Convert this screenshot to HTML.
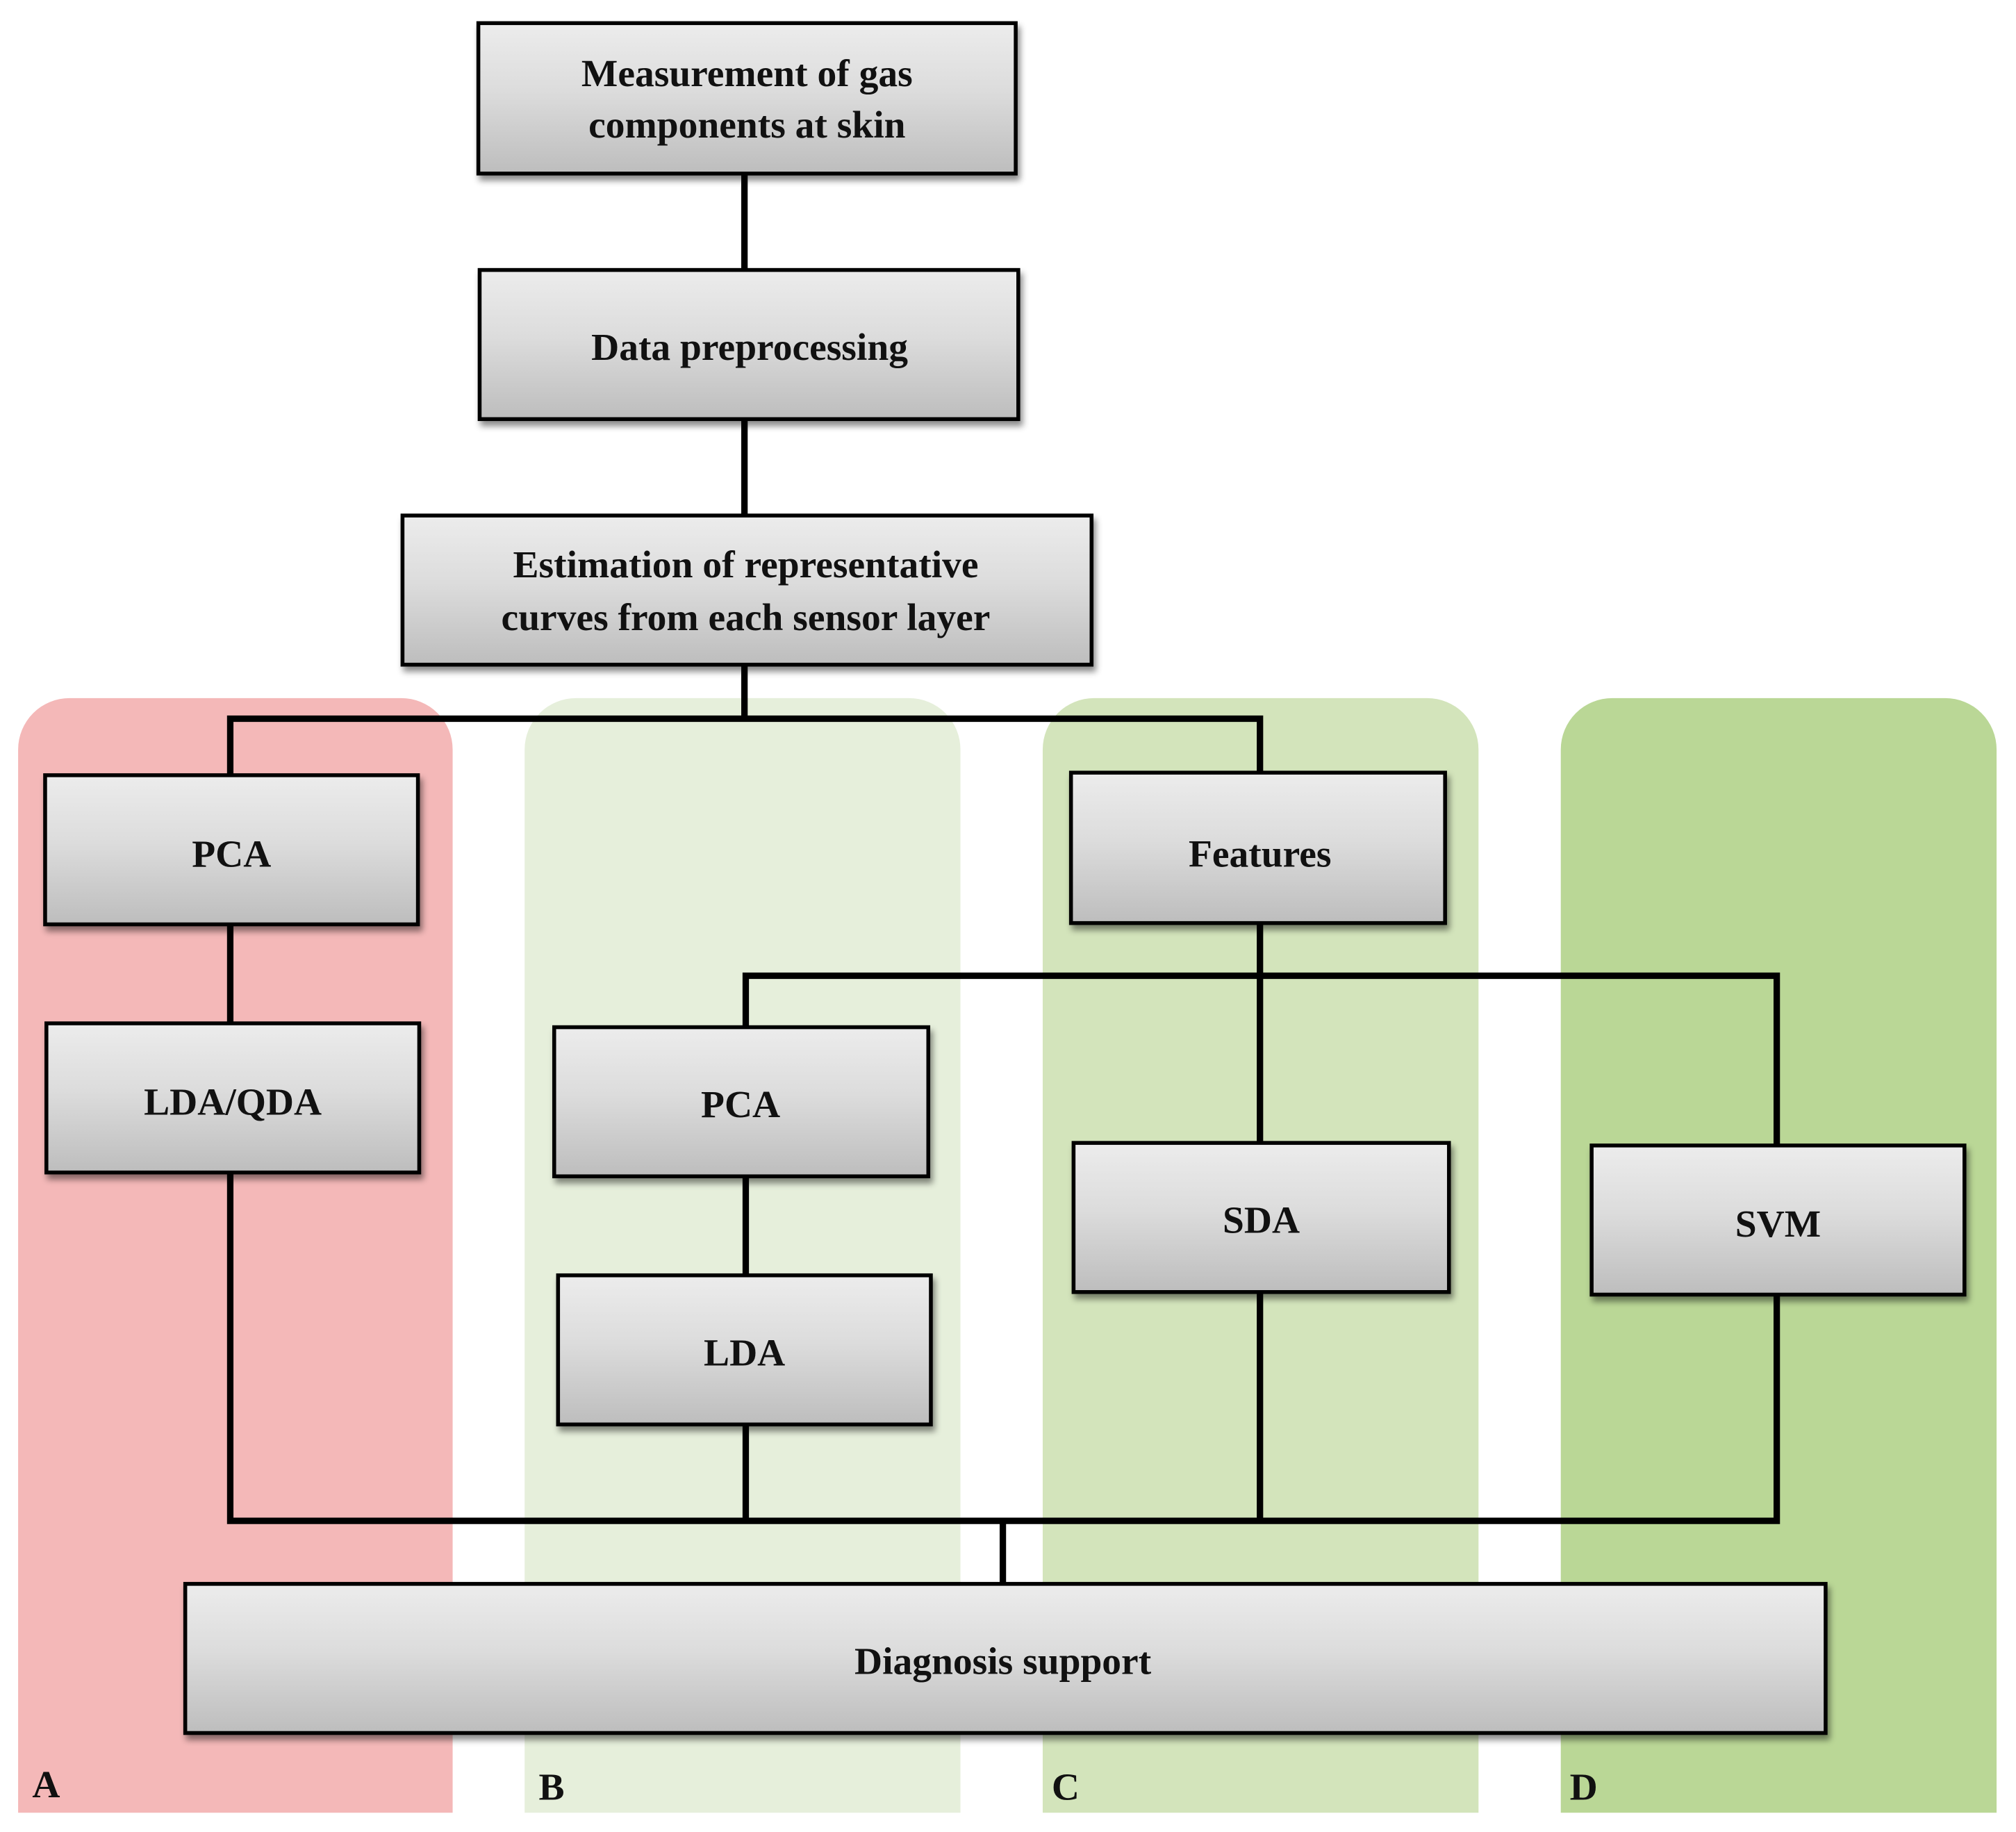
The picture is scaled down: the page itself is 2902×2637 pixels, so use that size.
<!DOCTYPE html>
<html><head><meta charset="utf-8"><style>
html,body{margin:0;padding:0;background:#fff;}
svg{display:block;}
text{font-family:"Liberation Serif",serif;font-weight:bold;fill:#111;}
</style></head><body>
<svg width="2902" height="2637" viewBox="0 0 1568 1425" xmlns="http://www.w3.org/2000/svg">
<defs>
<linearGradient id="g" x1="0" y1="0" x2="0" y2="1">
<stop offset="0" stop-color="#ececec"/><stop offset="0.45" stop-color="#dcdcdc"/><stop offset="1" stop-color="#bdbdbd"/>
</linearGradient>
<filter id="s" x="-10%" y="-10%" width="130%" height="140%"><feDropShadow dx="2" dy="4" stdDeviation="2.5" flood-color="#000" flood-opacity="0.45"/></filter>
</defs>
<rect width="1568" height="1425" fill="#fff"/>
<path d="M14,583 a40,40 0 0 1 40,-40 h258 a40,40 0 0 1 40,40 V1410 H14Z" fill="#f4b8b8"/>
<path d="M408,583 a40,40 0 0 1 40,-40 h259 a40,40 0 0 1 40,40 V1410 H408Z" fill="#e6efdb"/>
<path d="M811,583 a40,40 0 0 1 40,-40 h259 a40,40 0 0 1 40,40 V1410 H811Z" fill="#d3e4bb"/>
<path d="M1214,583 a40,40 0 0 1 40,-40 h259 a40,40 0 0 1 40,40 V1410 H1214Z" fill="#bad796"/>
<g stroke="#000" stroke-width="5" fill="none">
<path d="M579,135V210M579,326V401M579,517V559M179,603V559H980V601"/>
<path d="M179,719V796M980,718V889M580,799V759H1382V891M580,915V992"/>
<path d="M179,912V1183H1382V1007M580,1108V1183M980,1005V1183M780,1183V1232"/>
</g>
<g fill="url(#g)" stroke="#000" stroke-width="3" filter="url(#s)">
<rect x="372" y="18" width="418" height="117"/>
<rect x="373" y="210" width="419" height="116"/>
<rect x="313" y="401" width="536" height="116"/>
<rect x="35" y="603" width="290" height="116"/>
<rect x="36" y="796" width="290" height="116"/>
<rect x="833" y="601" width="291" height="117"/>
<rect x="431" y="799" width="291" height="116"/>
<rect x="434" y="992" width="290" height="116"/>
<rect x="835" y="889" width="292" height="116"/>
<rect x="1238" y="891" width="290" height="116"/>
<rect x="144" y="1232" width="1276" height="116"/>
</g>
<g font-size="30" text-anchor="middle">
<text x="581" y="67">Measurement of gas</text>
<text x="581" y="107">components at skin</text>
<text x="583" y="280">Data preprocessing</text>
<text x="580" y="449">Estimation of representative</text>
<text x="580" y="490">curves from each sensor layer</text>
<text x="180" y="674">PCA</text>
<text x="181" y="867">LDA/QDA</text>
<text x="980" y="674">Features</text>
<text x="576" y="869">PCA</text>
<text x="579" y="1062">LDA</text>
<text x="981" y="959">SDA</text>
<text x="1383" y="962">SVM</text>
<text x="780" y="1302">Diagnosis support</text>
</g>
<g font-size="30">
<text x="25" y="1398">A</text>
<text x="419" y="1400">B</text>
<text x="818" y="1400">C</text>
<text x="1221" y="1400">D</text>
</g>
</svg>
</body></html>
